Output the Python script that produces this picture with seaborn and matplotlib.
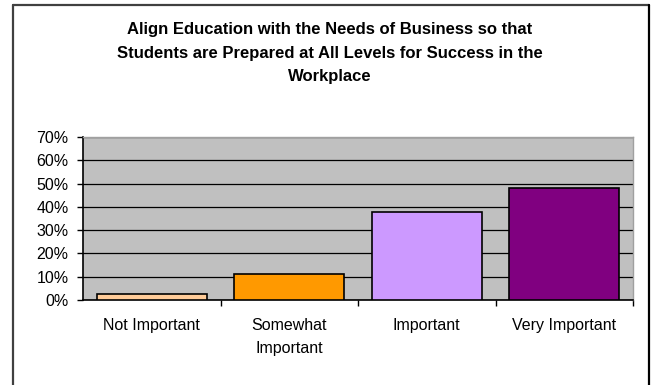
import matplotlib
matplotlib.use("Agg")
import matplotlib.pyplot as plt
from matplotlib.lines import Line2D
from matplotlib.ticker import PercentFormatter, FixedLocator
import seaborn as sns
import pandas as pd

categories = ["Not Important", "Somewhat\nImportant", "Important", "Very Important"]
shares = [2.7, 11, 38, 48]
bar_colors = ["#FFCC99", "#FF9900", "#CC99FF", "#800080"]
title = ("Align Education with the Needs of Business so that\n"
         "Students are Prepared at All Levels for Success in the\n"
         "Workplace")

sns.set_theme(style="white")
plt.rcParams["font.family"] = ["Liberation Sans", "DejaVu Sans"]

df = pd.DataFrame({"category": categories, "share": shares})

fig = plt.figure(figsize=(6.54, 3.85), dpi=100)
ax = fig.add_axes([83 / 654, 1 - 300 / 385, 550 / 654, 163 / 385])
ax.set_facecolor("#C0C0C0")

sns.barplot(data=df, x="category", y="share", hue="category",
            palette=bar_colors, saturation=1, width=0.8, edgecolor="black",
            linewidth=1.2, legend=False, ax=ax, zorder=3)

ax.set_ylim(0, 70)
ax.set_xlim(-0.5, 3.5)
ax.set_yticks(range(0, 71, 10))
ax.yaxis.set_major_formatter(PercentFormatter(decimals=0))
ax.yaxis.grid(True, color="black", linewidth=0.9, zorder=1)
ax.set_axisbelow(True)
ax.set_xlabel("")
ax.set_ylabel("")

# Category labels centred under the bars, tick marks on the boundaries
ax.set_xticks(range(len(categories)))
ax.set_xticklabels(categories, fontsize=11.5, linespacing=1.68)
ax.tick_params(axis="x", which="major", length=0, pad=13)
ax.xaxis.set_minor_locator(FixedLocator([0.5, 1.5, 2.5, 3.5]))
ax.tick_params(axis="x", which="minor", length=4, width=1, color="black",
               direction="out", bottom=True)
ax.tick_params(axis="y", length=4.3, width=1, color="black", direction="out",
               left=True, labelsize=11.5, pad=6)
for lbl in ax.get_yticklabels():
    lbl.set_color("black")
for lbl in ax.get_xticklabels():
    lbl.set_color("black")
    lbl.set_verticalalignment("top")

for side in ("left", "bottom"):
    ax.spines[side].set_color("black")
    ax.spines[side].set_linewidth(1.2)
for side in ("top", "right"):
    ax.spines[side].set_color("#A0A0A0")
    ax.spines[side].set_linewidth(1)

fig.text(330 / 654, 1 - 22 / 385, title, ha="center", va="top",
         fontsize=12, fontweight="bold", linespacing=1.72, color="black")

# Chart frame: left, top and right edges
def px(x, y):
    return x / 654, 1 - y / 385

for (x0, y0), (x1, y1), c in [((13, 5), (13, 390), "#404040"),
                              ((13, 5), (649, 5), "#404040"),
                              ((649, 5), (649, 390), "black")]:
    a, b = px(x0, y0)
    c2, d = px(x1, y1)
    fig.add_artist(Line2D([a, c2], [b, d], color=c, linewidth=1.6,
                          transform=fig.transFigure))

fig.savefig("out.png", dpi=100)
